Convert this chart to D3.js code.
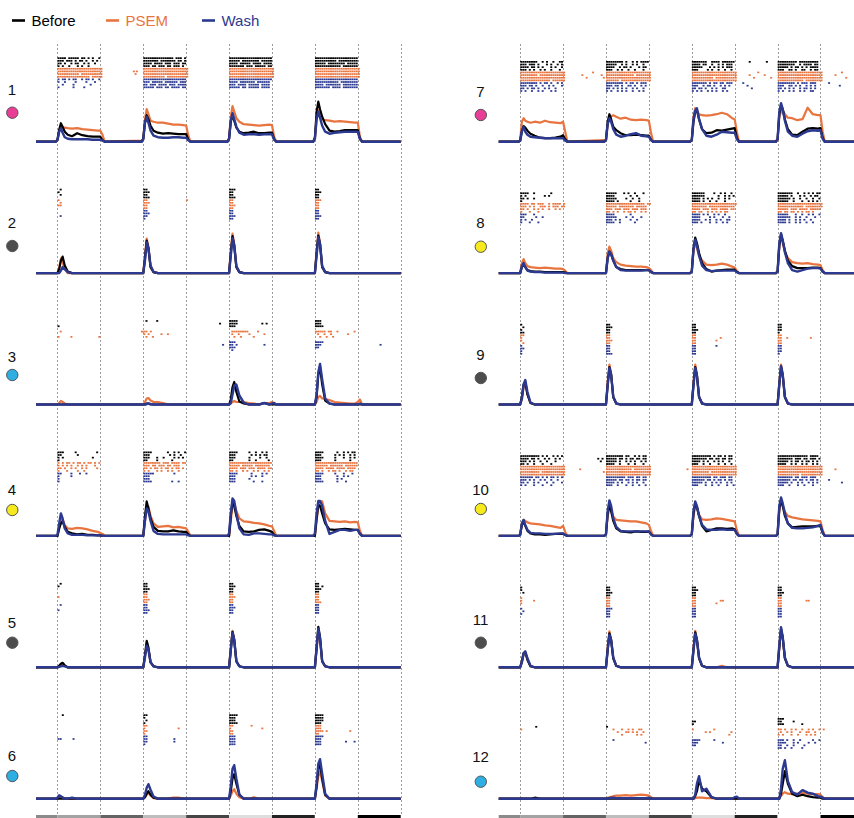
<!DOCTYPE html>
<html><head><meta charset="utf-8">
<script src="https://cdn.jsdelivr.net/npm/d3@7"></script>
<style>body{margin:0;background:#fff}svg{display:block}text{font-family:"Liberation Sans",Arial,sans-serif}</style>
</head><body><svg id="chart" width="854" height="818"></svg>
<script>
// ---------------- data ----------------
const conditions = ["Before", "PSEM", "Wash"];
const condColors = ["#000000", "#e8743f", "#2b3990"];
const cellIds = ["1","2","3","4","5","6","7","8","9","10","11","12"];
const cellDotColors = ["#e83e96","#4d4d4d","#2eaee3","#f6ea1f","#4d4d4d","#2eaee3","#e83e96","#f6ea1f","#4d4d4d","#f6ea1f","#4d4d4d","#2eaee3"];
const timeTicks = [0,1,2,3,4,5,6,7,8];
const stimOnsets = [0,2,4,6];
const sampleOffsets = [-0.04,0,0.04,0.08,0.12,0.17,0.24,0.34,0.46,0.58,0.7,0.82,0.94,1.0,1.05,1.1];
const barSegments = [[-0.5,0],[0,1],[1,2],[2,3],[3,4],[4,5],[5,6],[6,7],[7,8]];
const barShades = ["#8a8a8a","#a3a3a3","#646464","#bdbdbd","#454545","#dedede","#222222","#ffffff","#000000"];

// firing rate (a.u.) at sampleOffsets after each of the 4 stimulus onsets
const beforeRate = [
 [[0,4,24,37,30,20,14,11,17,13,11,10,10,10,3,0],[0,6,38,53,45,32,22,18,16,17,16,15,15,15,4,0],[0,6,40,53,42,28,20,17,18,20,17,17,18,18,5,0],[0,8,60,80,65,50,35,22,20,21,23,23,23,23,6,0]],
 [[0,0,8,25,33,15,3,0,0,0,0,0,0,0,0,0],[0,0,30,65,50,12,2,0,0,0,0,0,0,0,0,0],[0,0,40,74,55,12,2,0,0,0,0,0,0,0,0,0],[0,0,40,75,58,12,2,0,0,0,0,0,0,0,0,0]],
 [[0,0,0,0,0,0,0,0,0,0,0,0,0,0,0,0],[0,0,0,2,2,0,0,0,0,0,0,0,0,0,0,0],[0,0,10,35,45,25,6,2,0,0,0,3,0,0,0,0],[0,0,15,60,75,40,8,2,0,0,0,0,0,0,0,0]],
 [[0,0,15,25,29,18,8,5,3,4,2,2,1,1,0,0],[0,0,40,69,55,35,18,10,9,9,11,9,8,8,3,0],[0,0,40,69,60,40,20,9,8,9,12,13,10,8,2,0],[0,0,35,62,60,45,25,13,12,13,14,13,12,12,4,0]],
 [[0,0,3,7,9,4,0,0,0,0,0,0,0,0,0,0],[0,0,25,53,40,10,2,0,0,0,0,0,0,0,0,0],[0,0,35,71,55,12,2,0,0,0,0,0,0,0,0,0],[0,0,40,81,60,12,2,0,0,0,0,0,0,0,0,0]],
 [[0,0,0,0,0,0,0,0,0,0,0,0,0,0,0,0],[0,0,3,10,15,8,2,0,0,0,0,0,0,0,0,0],[0,0,15,40,49,30,8,0,0,0,0,0,0,0,0,0],[0,0,25,60,69,40,8,0,0,0,0,0,0,0,0,0]],
 [[0,2,20,31,28,22,16,12,8,7,7,8,10,13,5,0],[0,3,40,55,45,30,23,17,13,13,14,13,12,12,4,0],[0,3,40,60,63,45,25,17,18,23,22,24,26,27,8,0],[0,5,55,73,65,45,25,14,13,20,26,27,26,27,8,0]],
 [[0,0,12,17,12,6,4,3,3,2,2,2,2,2,1,0],[0,0,30,43,38,25,12,8,6,6,6,6,6,6,2,0],[0,3,50,71,60,40,20,8,3,5,6,7,7,7,2,0],[0,3,55,77,65,45,25,14,10,10,10,11,11,10,3,0]],
 [[0,0,15,40,45,20,3,0,0,0,0,0,0,0,0,0],[0,0,40,75,60,15,2,0,0,0,0,0,0,0,0,0],[0,0,40,75,58,15,2,0,0,0,0,0,0,0,0,0],[0,0,40,75,58,15,2,0,0,0,0,0,0,0,0,0]],
 [[0,2,22,29,20,10,5,3,3,2,3,4,4,4,2,0],[0,3,45,62,50,30,15,9,8,7,9,8,8,9,3,0],[0,3,45,65,58,40,20,9,12,15,15,14,15,13,4,0],[0,3,55,72,60,40,25,17,18,19,19,19,20,19,6,0]],
 [[0,0,12,28,30,15,2,0,0,0,0,0,0,0,0,0],[0,0,35,68,55,18,3,0,0,0,0,0,0,0,0,0],[0,0,35,70,55,18,3,0,0,0,0,0,0,0,0,0],[0,0,40,77,60,18,3,0,0,0,0,0,0,0,0,0]],
 [[0,0,0,0,0,0,0,2,0,0,0,0,0,0,0,0],[0,0,0,0,0,0,0,0,0,0,0,0,0,0,0,0],[0,0,0,5,15,37,20,15,3,0,0,0,0,0,0,0],[0,0,0,10,30,55,30,10,5,8,5,3,2,2,0,0]]
];
const psemRate = [
 [[0,3,22,31,29,28,27,26,27,25,24,23,22,22,14,0],[2,5,45,65,55,42,40,38,38,36,34,34,33,32,12,0],[0,5,50,71,60,47,40,35,34,33,32,33,34,33,10,0],[0,5,45,63,55,45,43,42,40,41,40,39,38,38,10,0]],
 [[0,0,10,29,22,8,0,0,0,0,0,0,0,0,0,0],[0,0,35,69,52,12,2,0,0,0,0,0,0,0,0,0],[0,0,45,79,58,12,2,0,0,0,0,0,0,0,0,0],[0,0,45,81,60,12,2,0,0,0,0,0,0,0,0,0]],
 [[0,0,3,7,5,2,0,0,0,0,0,0,0,0,0,0],[0,0,5,12,13,8,5,5,3,0,0,0,0,0,0,0],[0,0,2,5,7,5,5,5,3,2,0,3,3,5,2,0],[0,0,5,15,17,12,11,9,5,4,3,2,2,5,10,0]],
 [[0,0,15,30,33,22,15,14,16,15,13,10,8,6,4,0],[0,0,30,55,59,40,25,18,19,20,17,18,16,15,8,0],[0,0,30,60,65,50,35,29,28,26,25,23,20,19,10,0],[0,0,30,60,68,69,45,30,29,28,29,27,28,27,10,0]],
 [[0,0,2,5,6,3,0,0,0,0,0,0,0,0,0,0],[0,0,22,46,36,10,2,0,0,0,0,0,0,0,0,0],[0,0,38,73,55,12,2,0,0,0,0,0,0,0,0,0],[0,0,35,73,55,12,2,0,0,0,0,0,0,0,0,0]],
 [[0,0,2,4,3,1,0,0,0,0,0,0,0,0,0,0],[0,0,3,8,12,6,1,0,0,0,2,2,0,0,0,0],[0,0,6,15,19,10,3,0,0,3,0,0,0,0,0,0],[0,0,20,45,55,35,6,0,0,0,0,0,0,0,0,0]],
 [[0,3,40,47,42,40,38,40,38,42,39,38,37,40,20,0],[3,3,35,48,50,53,50,46,48,44,43,44,43,42,18,0],[0,3,50,67,62,55,53,52,53,55,58,55,47,45,20,0],[0,3,50,60,63,55,48,47,43,45,68,55,53,53,20,0]],
 [[0,0,20,28,20,14,12,11,10,11,10,9,9,8,5,0],[0,0,40,53,45,30,22,17,15,14,13,13,12,10,6,0],[0,3,45,60,50,35,25,17,16,17,19,17,13,11,5,0],[0,3,55,73,60,42,30,22,20,19,20,18,17,16,6,0]],
 [[0,0,10,35,40,20,3,0,0,0,0,0,0,0,0,0],[0,0,45,80,62,15,2,0,0,0,0,0,0,0,0,0],[0,0,45,80,60,15,2,0,0,0,0,0,0,0,0,0],[0,0,45,80,60,15,2,0,0,0,0,0,0,0,0,0]],
 [[0,2,25,32,30,27,25,24,23,21,20,18,16,20,8,0],[0,3,40,55,50,38,32,31,30,29,29,27,25,22,10,0],[0,3,40,59,55,42,33,32,33,35,34,32,30,29,12,0],[0,3,50,69,60,48,40,37,35,33,32,31,30,29,12,0]],
 [[0,0,10,25,29,15,2,0,0,0,0,0,0,0,0,0],[0,0,40,72,55,18,3,0,0,0,0,0,0,0,0,0],[0,0,40,73,55,18,3,0,0,0,3,0,0,0,0,0],[0,0,40,75,58,18,3,0,0,0,0,0,0,0,0,0]],
 [[0,0,1,0,0,0,0,0,0,0,0,0,0,0,0,0],[0,0,2,3,4,5,6,6,7,6,7,8,7,6,3,0],[0,0,0,1,2,2,2,1,1,0,0,0,0,0,0,0],[0,0,2,5,10,13,10,9,10,11,10,9,9,8,3,0]]
];
const washRate = [
 [[0,3,20,27,18,9,6,5,5,5,5,4,4,4,2,0],[0,5,38,50,38,22,12,9,8,8,9,9,8,8,3,0],[0,6,42,57,45,30,18,14,15,15,14,15,15,15,4,0],[0,6,45,60,48,32,20,16,18,19,20,20,20,20,5,0]],
 [[0,0,0,5,12,8,2,0,0,0,0,0,0,0,0,0],[0,0,25,62,50,15,2,0,0,0,0,0,0,0,0,0],[0,0,35,70,56,14,2,0,0,0,0,0,0,0,0,0],[0,0,35,72,58,14,2,0,0,0,0,0,0,0,0,0]],
 [[0,0,0,0,0,0,0,0,0,0,0,0,0,0,0,0],[0,0,0,1,2,1,0,0,0,0,0,0,0,0,0,0],[0,0,3,20,38,40,18,4,0,0,0,3,0,2,3,0],[0,0,20,65,81,50,12,2,0,0,0,0,0,0,2,0]],
 [[0,2,25,45,35,15,5,2,2,2,1,1,1,1,0,0],[0,0,30,55,50,30,10,4,3,3,3,3,3,3,1,0],[0,5,45,75,70,45,15,3,2,5,5,4,3,3,1,0],[0,5,45,70,70,60,30,4,8,12,12,10,12,12,4,0]],
 [[0,0,1,2,3,2,0,0,0,0,0,0,0,0,0,0],[0,0,20,43,35,10,2,0,0,0,0,0,0,0,0,0],[0,0,35,69,55,12,2,0,0,0,0,0,0,0,0,0],[0,0,40,77,58,12,2,0,0,0,0,0,0,0,0,0]],
 [[0,2,7,5,2,0,0,2,0,0,0,0,0,0,0,0],[0,0,8,22,29,18,4,0,0,0,0,0,0,0,0,0],[0,0,25,60,67,40,8,0,0,0,0,0,0,0,0,0],[0,0,30,70,79,50,10,0,0,0,0,0,0,0,0,0]],
 [[0,2,22,29,20,14,10,9,8,7,7,7,7,7,2,0],[0,3,35,47,40,25,14,10,12,15,17,12,11,10,3,0],[0,3,45,62,67,45,25,12,10,14,20,19,18,18,5,0],[0,5,60,77,65,42,20,12,10,16,21,23,22,23,6,0]],
 [[0,0,14,20,12,5,3,2,2,1,1,1,1,1,0,0],[0,0,30,43,38,25,12,6,5,5,5,5,6,6,2,0],[0,3,48,67,55,35,15,6,4,5,5,5,5,5,2,0],[0,3,60,80,65,42,20,6,3,6,9,10,10,9,3,0]],
 [[0,0,12,40,49,25,4,0,0,0,0,0,0,0,0,0],[0,0,38,73,60,15,2,0,0,0,0,0,0,0,0,0],[0,0,38,73,58,15,2,0,0,0,0,0,0,0,0,0],[0,0,40,77,60,15,2,0,0,0,0,0,0,0,0,0]],
 [[0,2,25,32,22,12,6,5,5,4,4,4,5,5,2,0],[0,3,50,71,60,35,18,10,9,9,9,9,9,9,3,0],[0,3,50,69,60,40,22,13,12,12,13,12,12,12,4,0],[0,3,60,77,65,45,25,16,15,15,16,17,20,22,7,0]],
 [[0,0,10,28,32,18,3,0,0,0,0,0,0,0,0,0],[0,0,35,65,55,20,3,0,0,0,0,0,0,0,0,0],[0,0,35,67,55,20,3,0,0,0,0,0,0,0,0,0],[0,0,45,80,60,20,3,0,0,0,0,0,0,0,0,0]],
 [[0,0,0,0,0,0,0,0,0,0,0,0,0,0,0,0],[0,0,0,1,2,2,1,1,1,1,1,1,1,2,0,0],[0,0,0,8,30,45,15,20,3,0,0,0,0,3,4,0],[0,0,0,20,60,77,35,13,8,17,12,10,5,4,2,0]]
];

// spike rasters: 12 trials per cell (4 Before, 4 PSEM, 4 Wash); one "/"-separated
// segment per stimulus, one character per 0.05 time bin from onset ("|" = spike)
const rasterTrials = [
 ["||||.|||||.||.|.|..|/||||||||||||||.|||.|/||||||||||||||||||||/||||||||||||||||||||",
  "|||.|||.|.||.|..|.|./|||||||.|||||||.||.|/|||||.||||||||.|||||/||||||||||.|||||||||",
  "||.|..|.||..|.|..|../||||.||||.|||.|||.||/||||.|||||.||||.||||/|||||.||||||||.|||||",
  "|.|..|...|.|..|...../|||.||.|||.||.|||.|./|||||||.|||.|||||.||/||||||||||||.|||||||",
  "|||||||||||||||||||||/|||||||||||||||||||||/|||||||||||||||||||||/|||||||||||||||||||||",
  "|||||||||||||||||||||/|||||||||||||||||||||/|||||||||||||||||||||/|||||||||||||||||||||",
  "||||||||||.||||||||||/|||||||||||||||||||||/|||||||||||||||||||||/|||||||||||||||||||||",
  "|||||||||||||||.|||||/||||||||||.||||||||||/|||||||||||||||||||||/|||||||||||||||||||||",
  "|.||.|.||..|.||.|..|/||||||||||||||||||||/||||||||||||||||||||/||||||||||||||||||||",
  "|..|....|....|...|../|||.|||||.||||||.|||/||||.|||||||.||||||/|||||||||||.||||||||",
  "..|....|.......|..../||.|||.||||.|||.||||/|||.||||.|||||.||||/||||.|||||||.|||||||",
  "|......|....|......./|||||.|||.||.||||.||/|||||.||.|||||.||||/|||||||.||||.|||||||"],
 [".|/||/|||/||","|/|||/||/|||",".|/||/||/||","/|||/|||/||",
  "|/||/||/|||",".|/|||/||/||","||/||/|||/||","/||/||/||",
  "/||/||/||","/|||/||/||",".|/||/|||/|||","/|/||/||"],
 ["/.|....|/||||/|||.","//||||...........|.|/|||","|//|||./||||","///",
  ".|/||.|/.||||||||....|/|||||.||..|.......|","/|.|.....|..|/.|..|....|......|/.|..|..|.......|","|.....|............|/.|..|/..|..|.....|/..|..|..|","///",
  "//|||./||||","//||.|............|./|||","//|||/||","//.|/."],
 ["|||.....|.........|./||||.......|..|.|..|/||||.....|..|..|.|./||||......|..|.|.||",
  "||.......|........../|||.........|.|..|./|||.......|.|.|.||./|||......|.|.|..|.|",
  "|.|.............|.../|||...|..|....|.|.|/|||......|....|..|./||||.....|...|..|.|",
  "|..................../||....|......|..../||.......|..|.....|/|||......|......|..",
  "|.|.||.|.||.|.||.|.|/||||||||.|||.||||.||/||||||||||||||||||||/||||||||||||||||||||",
  "|.|.|.|..|.|.|...|../|||.||.|||.||.|||../|||||.|||||.|||||||./||||||.||||||.||||||",
  "||.|..|.|..|.|....|./||.|.||.|.||.|.||.|/||||.|||.|||.||||.||/||||.||||.||||.||||",
  "|...|....|..|......./|.|...|.|..|.|..|./||.|..|.|..|.|..|.|/||.|..|.||.|..|.||.",
  "||....|...|..|/|||||.........|..../||||......|....|.|/||||.....|...|...|",
  "|.....|....../|||...../|||.......|.|..|./|||.......|..|.|",
  "|/|||...../|||......|..../|||.......|.|..",
  "|/||||.........|..|/|||........|...|/||||......|...|"],
 [".|/||/||/||","|/||/|||/||.|","/|||/||/|||","/||/||/||",
  "/||/||/||","|/||/|||/||","/|||/||/||","/||/||/|||",
  ".|/||/||/||","/||/|||/||","|/|||/||/||","/||/||/||"],
 ["..|/||/||||/||||","/|./|||./||||","/.|/|||/||||","/|/||||/|||",
  "/||/||........|/|||","/|...............|/|..............|/|||","/||/||/||||.|..........|","/|/||/||",
  "/||/|||/||||","||.....|/||............|/|||/|||","/||............|/|||/|||...........|...|","/|/|||/|||"],
 ["||||||||..|.|..|..||/||||||||.|..|.|.||||/|||||||..||||.||||||/|||||||||.|||||||||",
  "|||.|||.|...|.|..|.|/|||||..|.|..|.|..|./||||.||..|..|.|.|||/||||||||..|.||||.||",
  "||||.||.|.|...|.|..|/||||..|.||.|...|.||/|||||...|.|.|.|.|||/|||||.|.||.|.|.||||",
  "|||.|.|..|.|..|...|./|||..|.|..|..|...|./|||....|.|..|..|..|/|||..||.|..||..|.||",
  "|||||||||||||||||||||/|||||||||||||||||||||/|||||||||||||||||||||/|||||||||||||||||||||",
  "||||||||.||||||||||||/|||||||||||||.|||||||/|||||||||||||||||||||/|||||||||||||||||||||",
  "|||||||||||||||||||||/|||||||||||||||||||||/||||||||||.||||||||||/|||||||||||||||||||||",
  "||||||||||||||.||||||/||||||.||||||||||||||/|||||||||||||||||||||/||||||||||||.||||||||",
  "||||||||.|.||.|..|.|/||||||||.|.||.|.|||/|||||||.|.||.||.|||/||||||||.|.|||.|||",
  "|||.||.|..|..|.|...|/|||.||.|..||.|..|.|/|||..|.||.|..|.|.|/|||..||.|.|..|.|.|",
  "||.|.||.|..|.|..|.../||.|.|.|.|..|.|..|./||.||.|..|.|..||./||.|.|.|..|.||.|.|",
  "|.|..|..|.|...|.|.../|.|..|.|.|..|..|.|./|.|.|..|.|.|..|.|/|.|..|.|..|.|..||"],
 ["||||..|.......|/|||||...|.|..|...|/||||||....|..|.|..|/|||||||..|..|.|.|.||",
  "|.|........|.|/||||.......|..|/||||||......|..|.|.|/|||||.|...|.|..|.||",
  "||.|..|/|||||....|..|..|/||||.|.|.|..|..|.|/||||||.|..|..|..|..|",
  "|/||||.|.....|...|./||||.|..|..|...|../|||||..|...|..|.|.|",
  "||||.||.|||..|.||||.|/||||||||||||||||||.||/|||||||||||||||||||||/|||||||||||||||||||||",
  "|||.|.|..|||.|.|||.||/|||||.|||||||.|||||/|||||||.||||||||||||/||||||||||||.||||||||",
  "||.|..|.|.|..|..|.|../|||.|||.|||.|||.|||/||||.|||.|||.||||.||/|||||.|||.||||.|||||",
  "|...|...|......../||.|.|..|.||.|..|.|/||.||..|.|.|.|.||./||.||.||.|.|.||.|",
  "|||...|/||||.......|..../||||.|.|..|.|..|/|||||...|..|..|.|..|",
  "||.....|..|/|||||....|..|...|/||||....|.|...|..|/||||||..|.|..|...|",
  "|.|..|/|||.|.|....|..|/||||..|.|..|.|..||/||||.|..|.|.|..|",
  "|...|...|/||||..|......|../|||.|...|..|..|.|/||||.|..|.|..|..|"],
 ["|/||/||/||",".|/|||/||/||","|/||/|||/||","||/||/||/|",
  "||/||/||/||","|/||/||...........|/||..|..........|","|/|||/||.........|/||",".|/||/||/||",
  "|/||/||.........|/||","||/||/||/||","|/||/||/||","|/|||/||/|"],
 ["|||||||||.|.|..|.|.|/||||||||.||..|.|.||/|||||||||.|.||.|.||/||||||||||||||.||||.",
  "||||.||.|..|.|..|.|./|||||.||.|.||.||.||/|||||||.||.||.||.||/|||||||.|||.||.|||.|",
  "|||.|.|..|..|...|.../|||||.|..|.|.|..|.|/||||.|.|..|.|.|..|./|||||.|.||.|.||.|.|",
  "||.|..|...|...|...../||||..|...|..|...|./|||..|..|...|..|..|/||||..|.|..|.|..|.|",
  "|||||||||||||||||||||/|||||||||||||||||||||/|||||||||||||||||||||/|||||||||||||||||||||",
  "|||||||||||||||||||||/||||||||||||.||||||||/|||||||||||||||||||||/|||||||||||||||||||||",
  "|||||||||.|||||||||||/|||||||||||||||||||||/||||||||.||||||||||||/|||||||||||||||||||||",
  "|||||||||||||||||||||/|||||||||||||||||||||/|||||||||||||||||||||/||||||||||.||||||||||",
  "||||||.||.|.|.||.|.|/|||||||||.|||.||.||/|||||||||.||.|||.||/|||||||.||.|||.|||.",
  "|||.|.|..|.|..|..|../|||||.||.||.|.||.||/||||||.||.|.||.|.||/||||||.||.||.|.||.|",
  "||.|..|.|...|..|...|/||||.|.|..|.|.|..|./|||||.|..|.|.|..|.|/|||||.|..|.|..|.|.|",
  "|.|...|...|...|..../|||..|...|..|..|..|./|||...|..|..|...|..|/|||..|...|..|...|.."],
 ["|/||/||/||","|/||/|||/||",".|/|||/||/|||","/||/||/||",
  "|/||/||/||","|.....|/||/||...........||/||...........||","|/||/||.........|/||","/||/||/||",
  "|/|||/||/||",".|/||/||/||","|/||/||/||","/||/||/||"],
 ["///|||","//||/||.....|","//|/|||........|",".......|/|//",
  "|/...|...|..|.|..||/|.........|/||.|..|.|..|..|.|..|.|","/.....|...||.|.|..|/......|.|.........|/.|..|.|...|..||..|","/.......|......|.|./.................|/|.|...|..|...|.|.|","///",
  "/...|/||||......|/|||.|..|..|.....|..|","/..................|/|||...........|./||||...|.|....|..|","//||/||..|..|....|","///||.|..|....|"]
];
// isolated spikes between stimuli: [trial, time]
const strayEvents = [
 [[5,1.78],[5,1.85],[6,1.82]],
 [[4,3.02]],
 [[9,3.86],[9,7.53],[4,1.97],[1,3.79]],
 [], [], [],
 [[5,1.45],[6,1.55],[4,1.7],[5,1.9],[6,1.95],[0,5.35],[0,5.75],[5,5.35],[6,5.45],[4,5.55],[5,5.7],[6,5.85],[8,5.2],[9,5.3],[10,5.4],[5,7.35],[4,7.5],[6,7.6],[8,7.2],[9,7.45]],
 [], [],
 [[1,1.82],[2,1.88],[1,1.92],[5,1.4],[6,1.95],[5,3.9],[5,7.35],[9,7.2],[10,7.5]],
 [], []
];

// ---------------- drawing ----------------
const svg = d3.select("#chart");
const xScales = [
  d3.scaleLinear().domain([-0.5, 8]).range([36, 400.7]),
  d3.scaleLinear().domain([-0.5, 8]).range([498.7, 863.4])
];
const rowBase = r => 141.7 + r * 131.4;
const rasterTop = [-84.4, -80.7];
const pitch = 2.65;
const binWidth = 0.05;
const rates = [beforeRate, psemRate, washRate];
const labelY = [90,223,356.7,490,622.7,755.7, 91.7,222.7,355,490,620,756.7];
const dotY = [112.7,246,375,510,642.7,776, 115,246.7,378,509,642.7,781.7];
const labelX = [12, 480.5];

// dashed time gridlines
xScales.forEach(x => {
  svg.append("g").selectAll("line").data(timeTicks).join("line")
    .attr("x1", d => Math.round(x(d)) + 0.5).attr("x2", d => Math.round(x(d)) + 0.5)
    .attr("y1", 44).attr("y2", 815)
    .attr("stroke", "#9c9c9c").attr("stroke-width", 1).attr("stroke-dasharray", "2,2");
});

// stimulus luminance bar
xScales.forEach(x => {
  svg.append("g").selectAll("rect").data(barSegments).join("rect")
    .attr("x", d => x(d[0])).attr("width", d => x(d[1]) - x(d[0]))
    .attr("y", 815).attr("height", 3).attr("fill", (d, i) => barShades[i]);
});

cellIds.forEach((id, c) => {
  const col = c < 6 ? 0 : 1, row = c % 6, base = rowBase(row), x = xScales[col];
  const y = d3.scaleLinear().domain([0, 100]).range([base, base - 50]);
  const g = svg.append("g");

  const spikes = [];
  rasterTrials[c].forEach((trial, k) => {
    trial.split("/").forEach((seg, s) => {
      for (let i = 0; i < seg.length; i++) if (seg[i] === "|") spikes.push({ t: stimOnsets[s] + (i + 0.5) * binWidth, k });
    });
  });
  strayEvents[c].forEach(([k, t]) => spikes.push({ t, k }));
  g.append("g").selectAll("rect").data(spikes).join("rect")
    .attr("x", d => x(d.t) - 1).attr("y", d => base + rasterTop[col] + d.k * pitch)
    .attr("width", 2).attr("height", 1.7)
    .attr("fill", d => condColors[Math.floor(d.k / 4)]);

  const line = d3.line().x(d => x(d[0])).y(d => y(d[1]));
  [1, 0, 2].forEach(ci => {
    const pts = [[-0.5, 0]];
    rates[ci][c].forEach((vals, s) => vals.forEach((v, j) => pts.push([stimOnsets[s] + sampleOffsets[j], v])));
    pts.push([8, 0]);
    g.append("path").datum(pts).attr("d", line)
      .attr("fill", "none").attr("stroke", condColors[ci])
      .attr("stroke-width", ci === 2 ? 2.4 : 2.2).attr("stroke-linejoin", "round");
  });

  g.append("text").attr("x", labelX[col]).attr("y", labelY[c] + 5.4)
    .attr("text-anchor", "middle").attr("font-size", 15).attr("fill", "#111").text(id);
  g.append("circle").attr("cx", labelX[col] + 0.3).attr("cy", dotY[c]).attr("r", 5.7)
    .attr("fill", cellDotColors[c]).attr("stroke", "#555").attr("stroke-width", 1);
});

// legend
const legendX = [12, 106, 202];
conditions.forEach((name, i) => {
  svg.append("line").attr("x1", legendX[i]).attr("x2", legendX[i] + 13)
    .attr("y1", 20.5).attr("y2", 20.5).attr("stroke", condColors[i]).attr("stroke-width", 2.6);
  svg.append("text").attr("x", legendX[i] + 19.5).attr("y", 25.8)
    .attr("font-size", 15).attr("fill", condColors[i]).text(name);
});
</script>
</body></html>
